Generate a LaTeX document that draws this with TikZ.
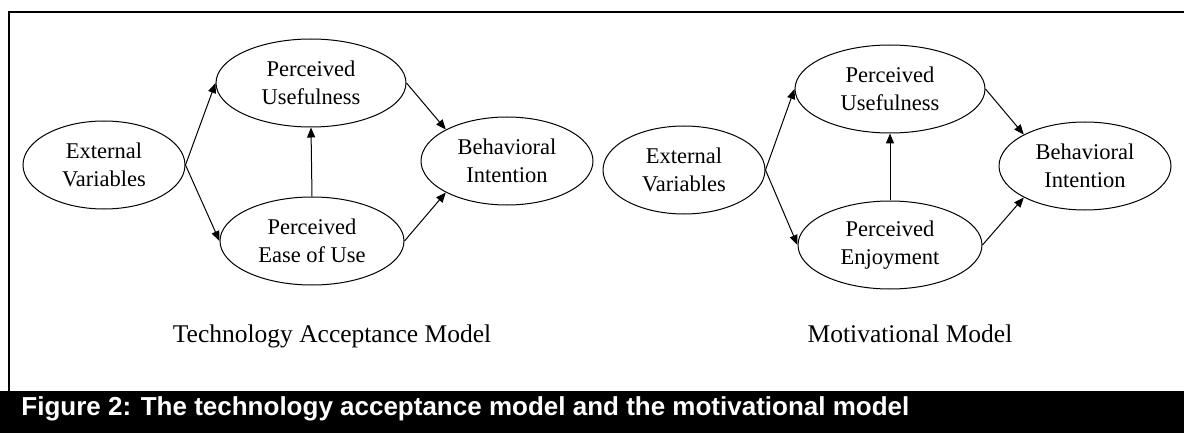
\documentclass[tikz,border=0pt]{standalone}
\usepackage{fontspec}
\setmainfont{Liberation Serif}
\newfontfamily\capfont{Liberation Sans}
\usetikzlibrary{arrows.meta,shapes.geometric}
\tikzstyle{var}=[ellipse,draw=black,line width=0.5pt,inner sep=0pt,
  align=center,font=\fontsize{11.25pt}{14.2pt}\selectfont,minimum height=44pt]
\tikzstyle{extvar}=[var,minimum width=81pt]
\tikzstyle{usef}=[var,minimum width=95pt]
\tikzstyle{easeuse}=[var,minimum width=92pt]
\tikzstyle{behint}=[var,minimum width=86pt]
\tikzstyle{arr}=[-{Triangle[length=5pt,width=4pt]},line width=0.5pt]
\tikzstyle{modelname}=[inner sep=0pt,anchor=base,font=\fontsize{12.75pt}{15pt}\selectfont]
\tikzstyle{figcap}=[inner sep=0pt,anchor=base west,text=white,
  font=\capfont\bfseries\fontsize{13pt}{15pt}\selectfont]
\tikzstyle{none}=[]

\begin{document}
\begin{tikzpicture}[x=0.5pt, y=-0.5pt]
            \useasboundingbox (0,0) rectangle (1184,433);
            \fill [black] (0,391) rectangle (1184,433);
            \draw [line width=1.4pt] (9,391) -- (9,12) -- (1184,12);
            % technology acceptance model
            \node [style=extvar] (0) at (104, 165) {External\\Variables};
            \node [style=usef] (1) at (311, 83) {Perceived\\Usefulness};
            \node [style=easeuse] (2) at (312, 241) {Perceived\\Ease of Use};
            \node [style=behint] (3) at (507, 161) {Behavioral\\Intention};
            % motivational model
            \node [style=extvar] (4) at (684, 170) {External\\Variables};
            \node [style=usef] (5) at (890, 89) {Perceived\\Usefulness};
            \node [style=easeuse] (6) at (890, 245) {Perceived\\Enjoyment};
            \node [style=behint] (7) at (1085, 166) {Behavioral\\Intention};
            \node [style=modelname] (8) at (332, 342) {Technology Acceptance Model};
            \node [style=modelname] (9) at (910, 342) {Motivational Model};
            \node [style=figcap] (10) at (21, 415) {Figure 2: The technology acceptance model and the motivational model};
            \draw [style=arr] (0.east) to (1.west);
            \draw [style=arr] (0.east) to (2.west);
            \draw [style=arr] (2.north) to (1.south);
            \draw [style=arr] (1.east) to (3.north west);
            \draw [style=arr] (2.east) to (3.south west);
            \draw [style=arr] (4.east) to (5.west);
            \draw [style=arr] (4.east) to (6.west);
            \draw [style=arr] (6.north) to (5.south);
            \draw [style=arr] (5.east) to (7.north west);
            \draw [style=arr] (6.east) to (7.south west);
    \end{tikzpicture}
\end{document}
